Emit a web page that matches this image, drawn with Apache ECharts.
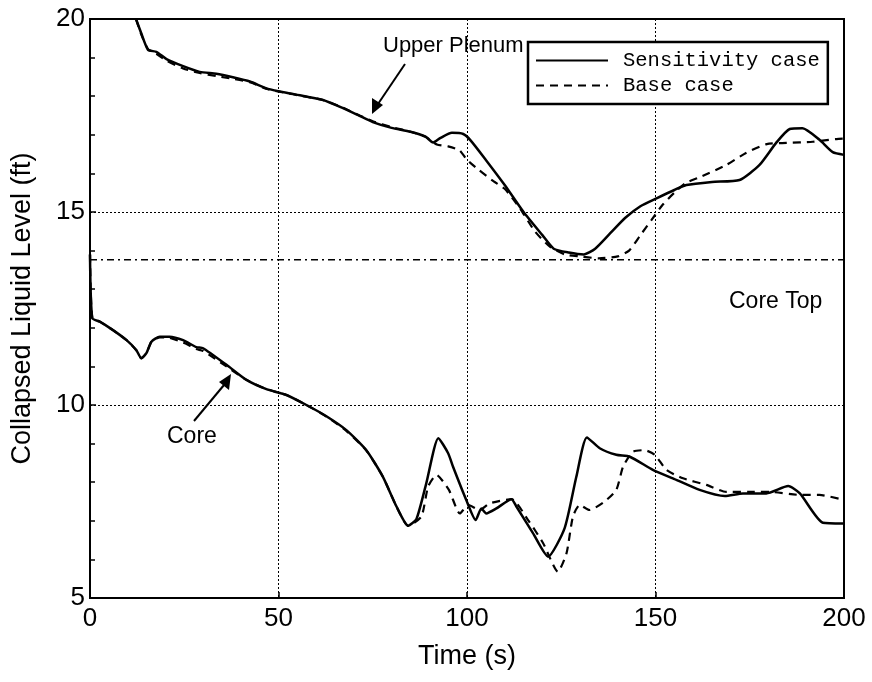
<!DOCTYPE html>
<html>
<head>
<meta charset="utf-8">
<script src="https://cdn.jsdelivr.net/npm/echarts@6/dist/echarts.min.js"></script>
<style>html,body{margin:0;padding:0;background:#fff}#c{width:872px;height:682px}</style>
</head>
<body>
<div id="c"></div>
<script>
// ---- data ----
var upSensT = [12.2,13.6,15.4,17.6,20.3,24.7,29.1,33.5,37.9,42.4,47.2,53.8,61.8,67.1,71.5,75,80,85,89,91,93,96,99,101,105,110,115,120,123,127,131,134,138,142,146,150.4,155,158.2,165,172.3,177.6,182,185.6,189,193.5,197,200];
var upSensV = [20.0,19.63,19.2,19.15,18.96,18.78,18.63,18.58,18.49,18.38,18.19,18.06,17.9,17.69,17.49,17.33,17.18,17.08,16.95,16.8,16.92,17.05,17.02,16.85,16.35,15.7,15.0,14.4,14.05,13.95,13.9,14.05,14.45,14.85,15.15,15.36,15.57,15.7,15.78,15.83,16.22,16.79,17.15,17.17,16.87,16.55,16.48];
var upBaseT = [12.2,13.6,15.4,17.6,20.3,24.7,29.1,33.5,37.9,42.4,47.2,53.8,61.8,67.1,71.5,75,80,85,89,92,95,98,100,103,107,110,114,118,122,126,130,135,140,143,146,149,152,155,158,161.7,168.8,174,179.5,184.7,191.7,198,200];
var upBaseV = [20.0,19.6,19.22,19.1,18.92,18.72,18.6,18.52,18.45,18.36,18.18,18.05,17.9,17.7,17.5,17.35,17.2,17.08,16.95,16.75,16.7,16.6,16.35,16.1,15.8,15.6,15.1,14.5,14.1,13.9,13.85,13.8,13.85,14.0,14.4,14.8,15.2,15.5,15.75,15.9,16.22,16.53,16.76,16.79,16.82,16.89,16.9];
var coreSensT = [0,0.6,2.6,6.1,9.7,12.3,13.6,15.0,16.3,18.5,21.1,24.7,28.2,30,36.2,41.5,46.8,52.1,57.4,62.7,68,73.3,77.7,81.3,84.4,86.6,89.2,92.4,95,96.3,99.8,102.3,103.8,105.1,107.8,111.8,113.1,117.5,121.5,125.9,129,131.8,135.2,139.6,143.2,149.3,154.6,161.7,168.4,173.2,179.4,185.2,188.3,194.4,199.7,200];
var coreSensV = [13.9,12.25,12.16,11.94,11.68,11.42,11.21,11.35,11.64,11.77,11.77,11.68,11.5,11.47,11.04,10.65,10.41,10.26,10.0,9.71,9.35,8.83,8.14,7.37,6.87,7.05,7.97,9.14,8.75,8.4,7.54,7.02,7.32,7.19,7.32,7.56,7.37,6.68,6.07,6.81,8.14,9.16,8.88,8.71,8.66,8.32,8.1,7.8,7.64,7.71,7.71,7.9,7.71,6.95,6.93,6.93];
var coreBaseT = [0,0.6,2.6,6.1,9.7,12.3,13.6,15.0,16.3,18.5,21.1,24.7,28.2,30,36.2,41.5,46.8,52.1,57.4,62.7,68,73.3,77.7,81.3,84.4,87.9,89.7,91.9,95.2,98.1,100.3,103.4,106,111.8,116.2,120.2,124.1,126.4,128.1,129.9,132.5,136.5,139.6,141.4,144,147.1,149.8,152.9,157.3,163.5,168.8,175,180.3,188.3,193.5,199.3,200];
var coreBaseV = [13.9,12.25,12.16,11.94,11.68,11.42,11.21,11.35,11.64,11.75,11.74,11.62,11.45,11.4,11.0,10.65,10.41,10.26,10.0,9.7,9.33,8.82,8.14,7.37,6.87,7.11,7.89,8.19,7.8,7.19,7.41,7.28,7.45,7.56,7.02,6.42,5.68,6.16,7.11,7.41,7.28,7.5,7.8,8.4,8.79,8.83,8.71,8.32,8.1,7.93,7.75,7.75,7.75,7.67,7.67,7.56,7.55];
var coreTopT = [0, 200];
var coreTopV = [13.76, 13.76];
var xTicks = [0, 50, 100, 150, 200];
var yTicks = [5, 10, 15, 20];
var legendNames = ['Sensitivity case', 'Base case'];

function pairs(t, v) { return t.map(function (x, i) { return [x, v[i]]; }); }

var FONT = '"Liberation Sans", Arial, sans-serif';
var solid = { color: '#000', width: 2.5, type: 'solid' };
var dashed = { color: '#000', width: 2.2, type: [8, 6] };

var chart = echarts.init(document.getElementById('c'), null, { renderer: 'canvas' });
chart.setOption({
  animation: false,
  backgroundColor: '#fff',
  grid: { left: 90, right: 28, top: 19, bottom: 84, show: true, borderColor: '#000', borderWidth: 2, backgroundColor: 'transparent' },
  xAxis: {
    type: 'value', min: xTicks[0], max: xTicks[xTicks.length - 1], interval: 50,
    name: 'Time (s)', nameLocation: 'middle', nameGap: 45,
    nameTextStyle: { fontFamily: FONT, fontSize: 27, color: '#000' },
    axisLine: { lineStyle: { color: '#000', width: 2 } },
    axisTick: { inside: true, length: 6, lineStyle: { color: '#000', width: 1.5 } },
    axisLabel: { fontFamily: FONT, fontSize: 26, color: '#000', margin: 8 },
    splitLine: { show: true, lineStyle: { color: '#000', width: 1, type: [2, 2] } }
  },
  yAxis: {
    type: 'value', min: yTicks[0], max: yTicks[yTicks.length - 1], interval: 5,
    name: 'Collapsed Liquid Level (ft)', nameLocation: 'middle', nameGap: 54,
    nameTextStyle: { fontFamily: FONT, fontSize: 27, color: '#000' },
    axisLine: { lineStyle: { color: '#000', width: 2 } },
    axisTick: { inside: true, length: 6, lineStyle: { color: '#000', width: 1.5 } },
    minorTick: { show: true, splitNumber: 5, length: 5, lineStyle: { color: '#000', width: 1.5 } },
    axisLabel: { fontFamily: FONT, fontSize: 26, color: '#000', margin: 5 },
    splitLine: { show: true, lineStyle: { color: '#000', width: 1, type: [2, 2] } }
  },
  legend: {
    data: legendNames, orient: 'vertical', left: 528, top: 42,
    backgroundColor: '#fff', borderColor: '#000', borderWidth: 2.5, borderRadius: 0,
    padding: [8, 8, 8, 7], itemGap: 4, itemWidth: 72, itemHeight: 14,
    itemStyle: { opacity: 0 },
    textStyle: { fontFamily: '"Liberation Mono", "DejaVu Sans Mono", monospace', fontSize: 20.5, color: '#000', padding: [0, 0, 0, 10] }
  },
  series: [
    { name: legendNames[0], type: 'line', data: pairs(upSensT, upSensV), symbol: 'none', smooth: 0.2, lineStyle: solid, itemStyle: { color: '#000' }, z: 3 },
    { name: legendNames[0], type: 'line', data: pairs(coreSensT, coreSensV), symbol: 'none', smooth: 0.2, lineStyle: solid, itemStyle: { color: '#000' }, z: 3 },
    { name: legendNames[1], type: 'line', data: pairs(upBaseT, upBaseV), symbol: 'none', smooth: 0.2, lineStyle: dashed, itemStyle: { color: '#000' }, z: 2 },
    { name: legendNames[1], type: 'line', data: pairs(coreBaseT, coreBaseV), symbol: 'none', smooth: 0.2, lineStyle: dashed, itemStyle: { color: '#000' }, z: 2 },
    { name: 'Core Top', type: 'line', data: pairs(coreTopT, coreTopV), symbol: 'none', lineStyle: { color: '#000', width: 1.5, type: [7, 4, 2, 4] }, z: 1 }
  ],
  graphic: [
    { type: 'text', left: 383, top: 35, style: { text: 'Upper Plenum', font: '22px ' + FONT, fill: '#000' } },
    { type: 'line', shape: { x1: 405, y1: 64, x2: 378, y2: 104 }, style: { stroke: '#000', lineWidth: 2 } },
    { type: 'polygon', shape: { points: [[372, 114], [372, 98], [383, 105]] }, style: { fill: '#000' } },
    { type: 'text', left: 167, top: 425, style: { text: 'Core', font: '23px ' + FONT, fill: '#000' } },
    { type: 'line', shape: { x1: 194, y1: 421, x2: 224, y2: 385 }, style: { stroke: '#000', lineWidth: 2 } },
    { type: 'polygon', shape: { points: [[231, 374], [219, 382], [229, 390]] }, style: { fill: '#000' } },
    { type: 'text', left: 729, top: 290, style: { text: 'Core Top', font: '23px ' + FONT, fill: '#000' } }
  ]
});
</script>
</body>
</html>
